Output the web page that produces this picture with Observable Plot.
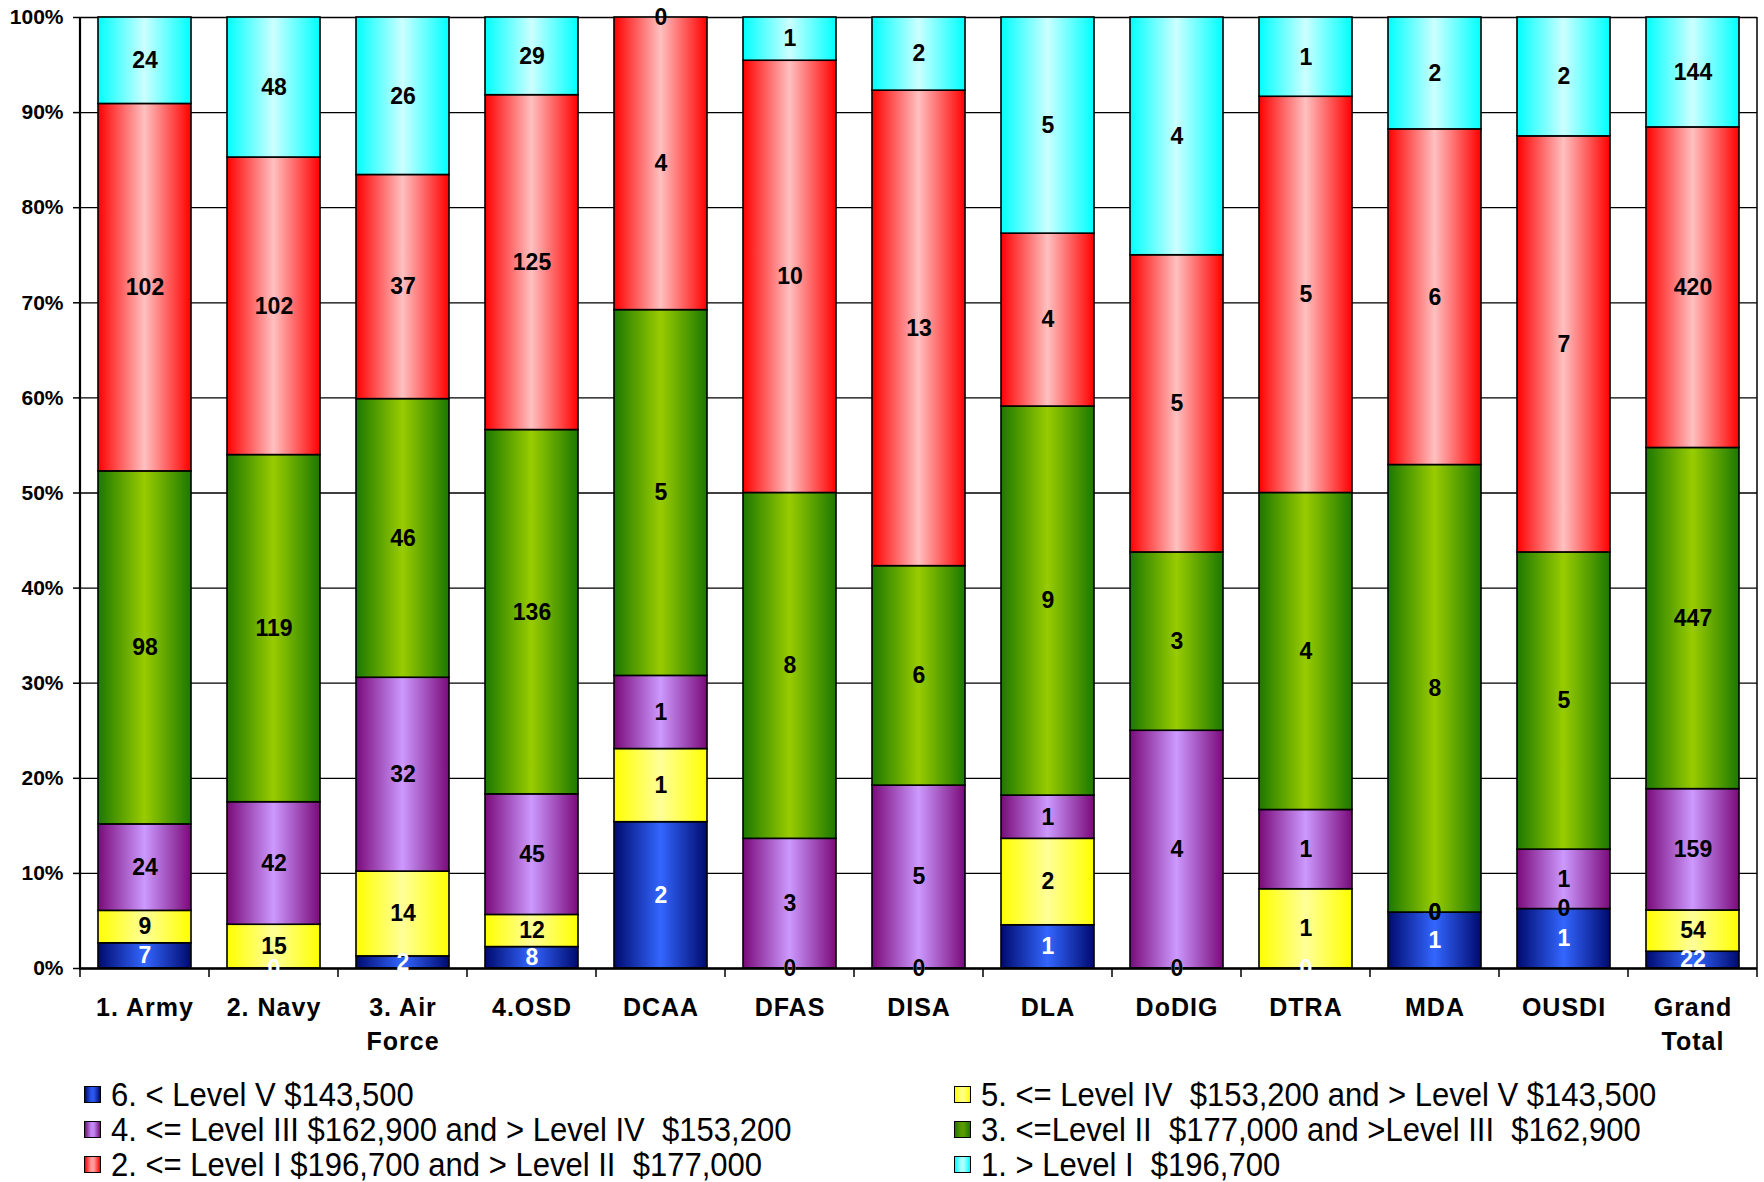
<!DOCTYPE html>
<html><head><meta charset="utf-8">
<script src="https://cdn.jsdelivr.net/npm/d3@7"></script>
<script src="https://cdn.jsdelivr.net/npm/@observablehq/plot@0.6"></script>
<style>
html,body{margin:0;background:#fff;font-family:"Liberation Sans",Arial,sans-serif;overflow:hidden;}
#legend{display:grid;grid-template-columns:870px 800px;grid-auto-rows:35px;padding:17px 0 0 84px;}
.item{display:flex;align-items:center;white-space:pre;height:35px;}
.sw{width:15px;height:15px;border:1.5px solid #000;margin-right:10px;flex:none;}
.lt{display:inline-block;font-size:33px;transform:scaleX(0.94);transform-origin:left center;line-height:35px;color:#000;}
</style></head><body><div id="chart"></div><div id="legend"></div>
<script>
const categories = ["1. Army","2. Navy","3. Air Force","4.OSD","DCAA","DFAS","DISA","DLA","DoDIG","DTRA","MDA","OUSDI","Grand Total"];
const categoryLabels = ["1. Army","2. Navy","3. Air\nForce","4.OSD","DCAA","DFAS","DISA","DLA","DoDIG","DTRA","MDA","OUSDI","Grand\nTotal"];
const seriesNames = [
  "6. < Level V $143,500",
  "5. <= Level IV  $153,200 and > Level V $143,500",
  "4. <= Level III $162,900 and > Level IV  $153,200",
  "3. <=Level II  $177,000 and >Level III  $162,900",
  "2. <= Level I $196,700 and > Level II  $177,000",
  "1. > Level I  $196,700"
];
const level6 = [7,0,2,8,2,0,0,1,0,0,1,1,22];
const level5 = [9,15,14,12,1,0,0,2,0,1,0,0,54];
const level4 = [24,42,32,45,1,3,5,1,4,1,0,1,159];
const level3 = [98,119,46,136,5,8,6,9,3,4,8,5,447];
const level2 = [102,102,37,125,4,10,13,4,5,5,6,7,420];
const level1 = [24,48,26,29,0,1,2,5,4,1,2,2,144];
const yTicks = [0,0.1,0.2,0.3,0.4,0.5,0.6,0.7,0.8,0.9,1];
const legendOrder = [0,1,2,3,4,5];

const seriesValues = [level6, level5, level4, level3, level2, level1];
const data = [];
seriesValues.forEach((vals, si) => vals.forEach((v, ci) => data.push({category: categories[ci], series: seriesNames[si], value: v})));

const gradIds = ["g6","g5","g4","g3","g2","g1"];
const gradColors = [["#000a6e","#3366ff"],["#ffff00","#ffff99"],["#7a0a7a","#cc99ff"],["#1c7800","#99cc00"],["#ff0000","#ffc0c0"],["#00ffff","#ccffff"]];
const swatchColors = ["#2a55ee","#ffff80","#c088f0","#5a9a00","#ff9a9a","#aaffff"];

const stackOpts = {x: "category", y: "value", z: "series", offset: "normalize", order: seriesNames};
const textStyle = {text: "value", fontSize: 23, fontWeight: "bold"};

const plot = Plot.plot({
  width: 1764, height: 1060,
  marginLeft: 79, marginRight: 7, marginTop: 17, marginBottom: 92,
  style: {fontFamily: "Liberation Sans, Arial, sans-serif", background: "white", color: "black", overflow: "visible"},
  x: {domain: categories, paddingInner: 0.28, paddingOuter: 0.14, label: null},
  y: {domain: [0, 1], label: null},
  color: {domain: seriesNames, range: gradIds.map(id => `url(#${id})`)},
  marks: [
    Plot.ruleY(yTicks, {stroke: "black", strokeWidth: 1.3}),
    Plot.barY(data, Plot.stackY({...stackOpts, fill: "series", stroke: "black", strokeWidth: 1.6})),
    Plot.ruleY([0], {stroke: "black", strokeWidth: 2.5}),
    Plot.text(data, Plot.filter(d => d.series === seriesNames[0], Plot.stackY({...stackOpts, ...textStyle, fill: "white"}))),
    Plot.text(data, Plot.filter(d => d.series !== seriesNames[0], Plot.stackY({...stackOpts, ...textStyle, fill: "black"}))),
    Plot.axisY({ticks: yTicks, tickFormat: d3.format(".0%"), tickSize: 6, tickPadding: 10, fontSize: 21, fontWeight: "bold", label: null, strokeWidth: 1.5}),
    Plot.axisX({tickSize: 0, tickPadding: 24, tickFormat: d => categoryLabels[categories.indexOf(d)], fontSize: 25, fontWeight: "bold", lineHeight: 1.35, label: null})
  ]
});
document.getElementById("chart").appendChild(plot);

const svg = d3.select(plot);
const defs = svg.insert("defs", ":first-child");
gradIds.forEach((id, i) => {
  const g = defs.append("linearGradient").attr("id", id).attr("x1", "0").attr("x2", "1").attr("y1", "0").attr("y2", "0");
  g.append("stop").attr("offset", "0").attr("stop-color", gradColors[i][0]);
  g.append("stop").attr("offset", "0.5").attr("stop-color", gradColors[i][1]);
  g.append("stop").attr("offset", "1").attr("stop-color", gradColors[i][0]);
});
svg.selectAll('g[aria-label="x-axis tick label"] text').style("letter-spacing", "1px");

const xs = plot.scale("x"), ys = plot.scale("y");
const step = xs.apply(categories[1]) - xs.apply(categories[0]);
const half = (step - xs.bandwidth) / 2;
const bounds = categories.map(c => xs.apply(c) - half);
bounds.push(xs.apply(categories[categories.length - 1]) + xs.bandwidth + half);
const yb = ys.apply(0), yt = ys.apply(1);
const ag = svg.append("g").attr("stroke", "black");
ag.selectAll("line.tick").data(bounds).join("line")
  .attr("x1", d => d).attr("x2", d => d).attr("y1", yb).attr("y2", yb + 9).attr("stroke-width", 1.5);
[bounds[0], bounds[bounds.length - 1]].forEach((bx, i) => {
  ag.append("line").attr("x1", bx).attr("x2", bx).attr("y1", yt).attr("y2", yb).attr("stroke-width", i === 0 ? 2.2 : 1.5);
});

const legend = d3.select("#legend");
legendOrder.forEach(i => {
  const it = legend.append("div").attr("class", "item");
  it.append("div").attr("class", "sw").style("background", `linear-gradient(to right, ${gradColors[i][0]}, ${swatchColors[i]} 40%, ${swatchColors[i]} 60%, ${gradColors[i][0]})`);
  it.append("span").attr("class", "lt").text(seriesNames[i]);
});
</script>
</body></html>
